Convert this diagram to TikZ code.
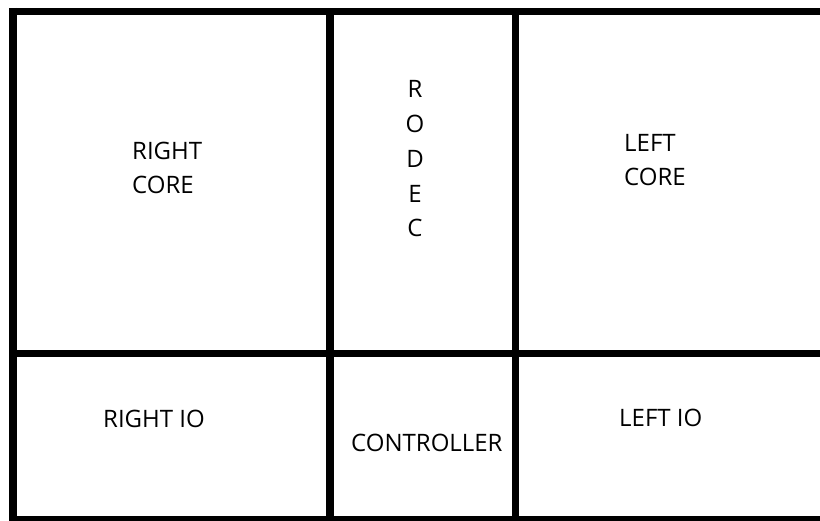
\documentclass[tikz,border=0pt]{standalone}
\usepackage{fontspec}
\setmainfont{Open Sans}
\begin{document}
\begin{tikzpicture}[x=1bp,y=-1bp,
  wall/.style={line width=7.5bp,draw=black,line cap=butt},
  lbl/.style={inner sep=0pt,font=\fontsize{24bp}{34bp}\selectfont,text=black}]
\useasboundingbox (0,0) rectangle (820,521);
\fill[white] (0,0) rectangle (820,521);
% corner coordinates
\coordinate (tl) at (9,11.5);
\coordinate (tr) at (820,11.5);
\coordinate (bl) at (9,520);
\coordinate (br) at (820,520);
\coordinate (lt) at (13,8);
\coordinate (lb) at (13,521);
\coordinate (v1t) at (330,11);
\coordinate (v1b) at (330,521);
\coordinate (v2t) at (515.5,11);
\coordinate (v2b) at (515.5,521);
\coordinate (ml) at (13,353.7);
\coordinate (mr) at (820,353.7);
% walls
\draw[wall] (tl) -- (tr);
\draw[wall] (bl) -- (br);
\draw[wall] (lt) -- (lb);
\draw[wall] (v1t) -- (v1b);
\draw[wall] (v2t) -- (v2b);
\draw[wall] (ml) -- (mr);
% labels
\node[lbl,anchor=base west] (rc1) at (132,160) {RIGHT};
\node[lbl,anchor=base west] (rc2) at (132,194) {CORE};
\node[lbl,anchor=base] (r1) at (415,98) {R};
\node[lbl,anchor=base] (r2) at (415,133) {O};
\node[lbl,anchor=base] (r3) at (415,168) {D};
\node[lbl,anchor=base] (r4) at (415,203) {E};
\node[lbl,anchor=base] (r5) at (415,237) {C};
\node[lbl,anchor=base west] (lc1) at (624,152) {LEFT};
\node[lbl,anchor=base west] (lc2) at (624,186) {CORE};
\node[lbl,anchor=base west] (rio) at (103,427) {RIGHT IO};
\node[lbl,anchor=base west] (ctl) at (351,451) {CONTROLLER};
\node[lbl,anchor=base west] (lio) at (619,426) {LEFT IO};
\end{tikzpicture}
\end{document}
